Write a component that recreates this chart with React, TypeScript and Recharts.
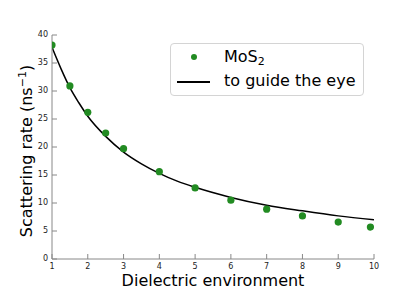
import React from 'react';
import { ComposedChart, Line, Scatter, XAxis, YAxis, Legend } from 'recharts';

const xTicks = [1, 2, 3, 4, 5, 6, 7, 8, 9, 10];
const yTicks = [0, 5, 10, 15, 20, 25, 30, 35, 40];

// MoS2 measured points
const pointX = [1, 1.5, 2, 2.5, 3, 4, 5, 6, 7, 8, 9, 9.9];
const pointY = [38.2, 30.9, 26.2, 22.5, 19.7, 15.6, 12.7, 10.5, 8.9, 7.7, 6.6, 5.7];

// "to guide the eye" curve
const curveX = [1, 1.25, 1.5, 1.75, 2, 2.5, 3, 3.5, 4, 4.5, 5, 6, 7, 8, 9, 10];
const curveY = [37.8, 34.0, 30.6, 27.9, 25.5, 21.9, 19.1, 17.0, 15.3, 13.9, 12.8, 11.0, 9.6, 8.6, 7.7, 7.0];

const points = pointX.map((x, i) => ({ x, y: pointY[i] }));
const curve = curveX.map((x, i) => ({ x, y: curveY[i] }));

const GREEN = '#228B22';
const FONT = 'DejaVu Sans, sans-serif';

const XTick = (props: any) => {
  const { x, y, payload } = props;
  return (
    <g>
      <line x1={x} x2={x} y1={y} y2={y - 5} stroke="#888" strokeWidth={1} />
      <text x={x} y={y + 10} textAnchor="middle" fontSize={8} fill="#222" fontFamily={FONT}>
        {payload.value}
      </text>
    </g>
  );
};

const YTick = (props: any) => {
  const { x, y, payload } = props;
  return (
    <g>
      <line x1={x} x2={x + 5} y1={y} y2={y} stroke="#888" strokeWidth={1} />
      <text x={x - 4} y={y - 1} textAnchor="end" dominantBaseline="middle" fontSize={8} fill="#222" fontFamily={FONT}>
        {payload.value}
      </text>
    </g>
  );
};

const RTick = (props: any) => {
  const { x, y } = props;
  return <line x1={x} x2={x - 5} y1={y} y2={y} stroke="#888" strokeWidth={1} />;
};

const YLabel = () => (
  <text
    x={32}
    y={151}
    transform="rotate(-90, 32, 151)"
    textAnchor="middle"
    fontSize={16}
    fill="#000"
    fontFamily={FONT}
  >
    Scattering rate (ns
    <tspan dy={-6} fontSize={11}>−1</tspan>
    <tspan dy={6}>)</tspan>
  </text>
);

const LegendBox = () => (
  <div
    style={{
      width: 194,
      height: 53,
      boxSizing: 'border-box',
      border: '1px solid #d4d4d4',
      borderRadius: 4,
      background: 'rgba(255,255,255,0.8)',
      position: 'relative',
      fontFamily: FONT,
      fontSize: 16,
      color: '#000',
    }}
  >
    <div style={{ position: 'absolute', left: 20, top: 10, width: 6, height: 6, borderRadius: 3, background: GREEN }} />
    <div style={{ position: 'absolute', left: 53, top: 4, lineHeight: '18px', whiteSpace: 'nowrap' }}>
      MoS<sub style={{ fontSize: 11, verticalAlign: 'baseline', position: 'relative', top: 3 }}>2</sub>
    </div>
    <div style={{ position: 'absolute', left: 6, top: 37, width: 33, height: 1.5, background: '#000' }} />
    <div style={{ position: 'absolute', left: 53, top: 28, lineHeight: '18px', whiteSpace: 'nowrap' }}>
      to guide the eye
    </div>
  </div>
);

export default function App() {
  return (
    <div style={{ position: 'absolute', left: 0, top: 0 }}>
      <ComposedChart width={415} height={297} margin={{ top: 35, right: 41, left: 0, bottom: 0 }}>
        <XAxis
          xAxisId="b"
          type="number"
          dataKey="x"
          domain={[1, 10]}
          ticks={xTicks}
          allowDataOverflow
          height={38}
          tickLine={false}
          tickSize={0}
          tickMargin={0}
          tick={<XTick />}
          axisLine={{ stroke: '#888', strokeWidth: 1 }}
          label={{ value: 'Dielectric environment', position: 'insideBottom', offset: 11, fontSize: 16, fill: '#000', fontFamily: FONT }}
        />
        <XAxis
          xAxisId="t"
          orientation="top"
          type="number"
          domain={[1, 10]}
          height={0}
          tick={false}
          tickLine={false}
          axisLine={{ stroke: '#333', strokeWidth: 1 }}
        />
        <YAxis
          yAxisId="l"
          type="number"
          domain={[0, 40]}
          ticks={yTicks}
          allowDataOverflow
          width={52}
          tickLine={false}
          tickSize={0}
          tickMargin={0}
          tick={<YTick />}
          axisLine={{ stroke: '#888', strokeWidth: 1 }}
          label={<YLabel />}
        />
        <YAxis
          yAxisId="r"
          orientation="right"
          type="number"
          domain={[0, 40]}
          ticks={yTicks}
          width={0}
          tickLine={false}
          tickSize={0}
          tickMargin={0}
          tick={<RTick />}
          axisLine={{ stroke: '#333', strokeWidth: 1 }}
        />
        <Line
          xAxisId="b"
          yAxisId="l"
          data={curve}
          dataKey="y"
          type="monotone"
          stroke="#000"
          strokeWidth={1.5}
          dot={false}
          isAnimationActive={false}
        />
        <Scatter
          xAxisId="b"
          yAxisId="l"
          data={points}
          dataKey="y"
          fill={GREEN}
          isAnimationActive={false}
          shape={(p: any) => <circle cx={p.cx} cy={p.cy} r={3.6} fill={GREEN} />}
        />
        <Legend
          layout="horizontal"
          align="center"
          verticalAlign="middle"
          content={<LegendBox />}
          wrapperStyle={{ left: 170, top: 43, width: 194, height: 53 }}
        />
      </ComposedChart>
    </div>
  );
}
